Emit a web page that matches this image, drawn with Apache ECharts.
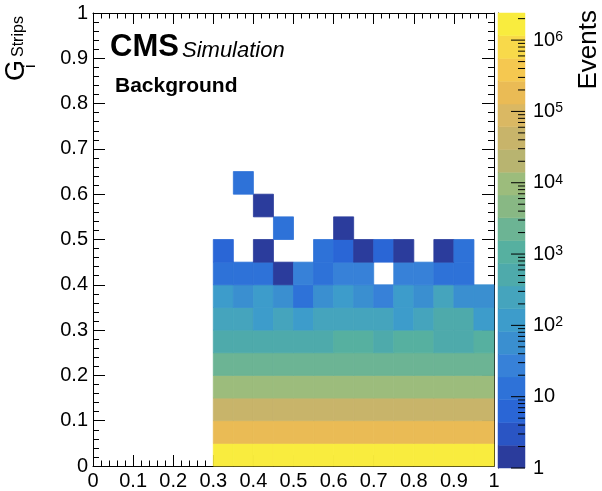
<!DOCTYPE html>
<html><head><meta charset="utf-8">
<script src="https://cdn.jsdelivr.net/npm/echarts@6/dist/echarts.min.js"></script>
<style>html,body{margin:0;padding:0;background:#fff}#c{width:602px;height:491px}</style>
</head><body><div id="c"></div>
<script>
// ---------- DATA ----------
// x bin lower edges (bin width 0.05)
const xBinLow = [0.30,0.35,0.40,0.45,0.50,0.55,0.60,0.65,0.70,0.75,0.80,0.85,0.90,0.95];
// y bin lower edges (bin width 0.05)
const yBinLow = [0.00,0.05,0.10,0.15,0.20,0.25,0.30,0.35,0.40,0.45,0.50,0.55,0.60];
const binWidth = 0.05;
// event counts per y row (null = empty bin)
const row00 = [1640000,1650000,1660000,1655000,1648000,1652000,1645000,1658000,1650000,1647000,1653000,1651000,1649000,1656000];
const row01 = [184000,183500,185200,182800,184600,183900,185000,184200,183300,184800,183700,184400,185100,183600];
const row02 = [42100,41800,42300,42000,41900,42200,42050,41950,42150,41850,42250,42000,41900,42100];
const row03 = [9700,9650,9750,9680,9720,9690,9710,9740,9660,9730,9700,9670,9760,9690];
const row04 = [2240,2230,2250,2220,2260,2235,2245,2255,2225,2240,2250,2230,2245,2235];
const row05 = [690,700,680,705,695,710,790,800,700,785,795,690,705,780];
const row06 = [250,245,150,240,155,255,250,245,240,150,250,380,375,160];
const row07 = [110,65,105,68,14,66,108,64,30,112,67,180,66,65];
const row08 = [13,12,13,1,27,13,28,26,null,27,28,12,13,null];
const row09 = [6,null,1,null,null,12,6,1,6,1,null,1,12,null];
const row10 = [null,null,null,12,null,null,1,null,null,null,null,null,null,null];
const row11 = [null,null,1,null,null,null,null,null,null,null,null,null,null,null];
const row12 = [null,12,null,null,null,null,null,null,null,null,null,null,null,null];
// colour scale
const zMin = 1;
const zMax = 2.4e6;
const nContours = 20;
const zMajorTicks = [1,10,100,1e3,1e4,1e5,1e6];
const zMinorMantissa = [2,3,4,5,6,7,8,9];

// ---------- STYLE / BUILD ----------
const FONT = 'Liberation Sans, Arial, Helvetica, sans-serif';
const rows = [row00,row01,row02,row03,row04,row05,row06,row07,row08,row09,row10,row11,row12];
const cells = [];
rows.forEach((r, j) => r.forEach((v, i) => { if (v != null) cells.push([xBinLow[i], yBinLow[j], v]); }));

// palette (kBird-like, as rendered in the reference), lowest contour first
const bandColors = ['#2b3c9c','#2a55c4','#2a66d6','#2e72d8','#3781d8','#3a8fd0','#3d9ccb','#45a4bd',
  '#4eaaab','#56b0a0','#6cb494','#88b884','#9cbc7c','#b8b470','#c8b46a','#dab863','#eabb55',
  '#f5c850','#f8d94a','#f9ec3e'];
const logStep = Math.log10(zMax / zMin) / nContours;
function bandOf(v) {
  let k = Math.floor(Math.log10(v / zMin) / logStep);
  return Math.max(0, Math.min(nContours - 1, k));
}
const bandIdx = bandColors.map((_, k) => k);
const zTicks = [];
zMajorTicks.forEach(m => zTicks.push([m, 1]));
zMajorTicks.forEach(m => zMinorMantissa.forEach(s => { if (s*m <= zMax) zTicks.push([s*m, 0]); }));

const axisCommon = {
  type: 'value', min: 0, max: 1, interval: 0.1,
  axisLine: { show: true, onZero: false, lineStyle: { color: '#000', width: 1 } },
  splitLine: { show: false },
};
function mk(extra) { return Object.assign({}, JSON.parse(JSON.stringify(axisCommon)), extra); }

const chart = echarts.init(document.getElementById('c'), null, { renderer: 'canvas' });
chart.setOption({
  animation: false,
  backgroundColor: '#fff',
  grid: [
    { left: 93, top: 13, width: 401, height: 454 },
    { left: 498, top: 13, width: 27, height: 455 }
  ],
  xAxis: [
    mk({ gridIndex: 0, position: 'bottom',
      axisTick: { show: true, inside: true, length: 11, lineStyle: { color: '#000' } },
      minorTick: { show: true, splitNumber: 5, length: 5.5, lineStyle: { color: '#000' } },
      axisLabel: { show: true, margin: 5, fontSize: 20, fontFamily: FONT, color: '#000', showMinLabel: true, showMaxLabel: true, hideOverlap: false } }),
    mk({ gridIndex: 0, position: 'top',
      axisTick: { show: true, inside: true, length: 11, lineStyle: { color: '#000' } },
      minorTick: { show: true, splitNumber: 5, length: 5.5, lineStyle: { color: '#000' } },
      axisLabel: { show: false } }),
    { type: 'value', gridIndex: 1, min: 0, max: 1, show: false }
  ],
  yAxis: [
    mk({ gridIndex: 0, position: 'left',
      axisTick: { show: true, inside: true, length: 12, lineStyle: { color: '#000' } },
      minorTick: { show: true, splitNumber: 5, length: 6, lineStyle: { color: '#000' } },
      axisLabel: { show: true, margin: 5, fontSize: 20, fontFamily: FONT, color: '#000', showMinLabel: true, showMaxLabel: true, hideOverlap: false } }),
    mk({ gridIndex: 0, position: 'right',
      axisTick: { show: true, inside: true, length: 12, lineStyle: { color: '#000' } },
      minorTick: { show: true, splitNumber: 5, length: 6, lineStyle: { color: '#000' } },
      axisLabel: { show: false } }),
    { type: 'log', logBase: 10, gridIndex: 1, position: 'right', min: zMin, max: zMax,
      axisLine: { show: true, lineStyle: { color: '#000', width: 1 } },
      axisTick: { show: false }, splitLine: { show: false },
      axisLabel: { show: true, margin: 8, fontSize: 20, fontFamily: FONT, color: '#000',
        showMinLabel: true, showMaxLabel: false, hideOverlap: false,
        formatter: function (v) {
          const e = Math.round(Math.log10(v));
          if (Math.abs(Math.log10(v) - e) > 1e-6) return '';
          if (e === 0) return '1';
          if (e === 1) return '10';
          return '{b|10}{s|' + e + '}';
        },
        rich: {
          b: { fontSize: 20, fontFamily: FONT, color: '#000' },
          s: { fontSize: 14, fontFamily: FONT, color: '#000', verticalAlign: 'top' }
        } } }
  ],
  series: [
    { type: 'custom', xAxisIndex: 0, yAxisIndex: 0, data: cells, encode: { x: 0, y: 1 },
      renderItem: function (params, api) {
        const x0 = api.value(0), y0 = api.value(1), v = api.value(2);
        const p0 = api.coord([x0, y0]);
        const p1 = api.coord([x0 + binWidth, y0 + binWidth]);
        const col = bandColors[bandOf(v)];
        return { type: 'rect', shape: { x: p0[0], y: p1[1], width: p1[0] - p0[0], height: p0[1] - p1[1] },
          style: { fill: col, stroke: col, lineWidth: 0.8 } };
      } },
    { type: 'custom', xAxisIndex: 2, yAxisIndex: 2, data: bandIdx.map(k => [k]), encode: { x: -1, y: -1 },
      renderItem: function (params, api) {
        const k = api.value(0);
        const lo = zMin * Math.pow(10, k * logStep), hi = zMin * Math.pow(10, (k + 1) * logStep);
        const p0 = api.coord([0, lo]), p1 = api.coord([1, hi]);
        return { type: 'rect', shape: { x: p0[0], y: p1[1], width: p1[0] - p0[0], height: p0[1] - p1[1] },
          style: { fill: bandColors[k], stroke: bandColors[k], lineWidth: 0.5 } };
      } },
    { type: 'custom', xAxisIndex: 2, yAxisIndex: 2, data: zTicks, encode: { x: -1, y: -1 }, z: 5,
      renderItem: function (params, api) {
        const v = api.value(0), major = api.value(1);
        const p = api.coord([1, v]);
        const L = major ? 14 : 7;
        return { type: 'line', shape: { x1: p[0] - L, y1: p[1], x2: p[0], y2: p[1] },
          style: { stroke: '#000', lineWidth: 1 } };
      } }
  ],
  graphic: [
    { type: 'text', x: 110, y: 47.5, style: { text: 'CMS', font: 'bold 31px ' + FONT, fill: '#000', textVerticalAlign: 'middle' } },
    { type: 'text', x: 182, y: 50.5, style: { text: 'Simulation', font: 'italic 22px ' + FONT, fill: '#000', textVerticalAlign: 'middle' } },
    { type: 'text', x: 115, y: 86, style: { text: 'Background', font: 'bold 21px ' + FONT, fill: '#000', textVerticalAlign: 'middle' } },
    { type: 'text', x: 589, y: 10, rotation: Math.PI / 2, style: { text: 'Events', font: '26px ' + FONT, fill: '#000', textAlign: 'right', textVerticalAlign: 'middle' } },
    { type: 'text', x: 17, y: 81, rotation: Math.PI / 2, style: { text: 'G', font: '27px ' + FONT, fill: '#000', textAlign: 'left', textVerticalAlign: 'middle' } },
    { type: 'text', x: 18.5, y: 57, rotation: Math.PI / 2, style: { text: 'Strips', font: '16px ' + FONT, fill: '#000', textAlign: 'left', textVerticalAlign: 'middle' } },
    { type: 'text', x: 31, y: 68, rotation: Math.PI / 2, style: { text: 'i', font: '16px ' + FONT, fill: '#000', textAlign: 'left', textVerticalAlign: 'middle' } }
  ]
});
</script></body></html>
